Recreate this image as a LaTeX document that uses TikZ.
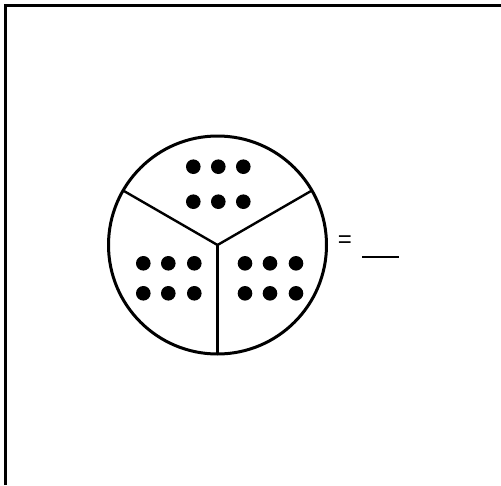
\documentclass[tikz,border=0pt]{standalone}
\usepackage{fontspec}
\setmainfont{Liberation Sans}
\usetikzlibrary{calc}

\begin{document}
\begin{tikzpicture}[x=1pt,y=-1pt]
\useasboundingbox (0,0) rectangle (501,485);
% rahmen (nur oben und links sichtbar)
\draw[line width=2.8pt] (5.5,485)--(5.5,5.5)--(501,5.5);
% kreis mit drei teilen
\coordinate (mitte) at (217.5,245);
\draw[line width=3pt] (mitte) circle (109);
\draw[line width=2.4pt] (mitte)--($(mitte)+(-94.4,-54.5)$);
\draw[line width=2.4pt] (mitte)--($(mitte)+(94.4,-54.5)$);
\draw[line width=2.4pt] (mitte)--($(mitte)+(0,109)$);
% punkte oben
\foreach \x in {193.3,218.3,243.3}
  \foreach \y in {166.7,201.7} \fill (\x,\y) circle (7.3);
% punkte unten links
\foreach \x in {143.3,168.3,194.3}
  \foreach \y in {263.3,293.3} \fill (\x,\y) circle (7.3);
% punkte unten rechts
\foreach \x in {245,270,296}
  \foreach \y in {263.3,293.3} \fill (\x,\y) circle (7.3);
% gleich und leerstelle
\node (gleich) at (345,242) {\fontsize{24}{26}\selectfont =};
\draw[line width=2.4pt] (362,256.7)--(399,256.7);
\end{tikzpicture}
\end{document}
